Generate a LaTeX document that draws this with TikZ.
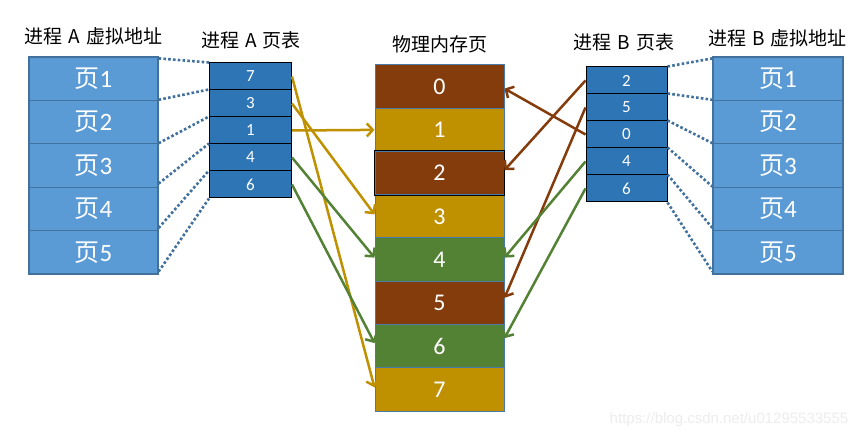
\documentclass[tikz,border=0pt]{standalone}
\usepackage{fontspec}
\setmainfont{Carlito}
\newfontfamily\cjk{Noto Sans CJK SC}
\newfontfamily\wmfont{Liberation Sans}
\usetikzlibrary{arrows.meta}
\definecolor{vfill}{HTML}{5B9BD5}
\definecolor{vborder}{HTML}{41719C}
\definecolor{tfill}{HTML}{2E75B6}
\definecolor{pbrown}{HTML}{843C0C}
\definecolor{pgold}{HTML}{BF9000}
\definecolor{pgreen}{HTML}{548235}
\definecolor{pborder}{HTML}{4A7AA8}
\definecolor{dotc}{HTML}{41719C}
\newcommand{\tsp}{\hspace{6pt}}
\begin{document}
\begin{tikzpicture}[x=1pt,y=-1pt,
  vpage/.style={draw=vborder, line width=1.2pt, fill=vfill, minimum width=129pt, minimum height=43.4pt, inner sep=0pt, text=white, font=\fontsize{25}{25}\selectfont},
  tcell/.style={draw=black, line width=1pt, fill=tfill, minimum width=82pt, minimum height=27pt, inner sep=0pt, text=white, font=\fontsize{17}{17}\selectfont},
  pcell/.style={draw=pborder, line width=1pt, minimum width=129pt, minimum height=43.25pt, inner sep=0pt, text=white, font=\fontsize{24}{24}\selectfont},
  ttl/.style={font=\cjk\fontsize{19}{19}\selectfont, inner sep=0pt},
  dots/.style={draw=dotc, line width=2.6pt, dash pattern=on 2.6pt off 2.2pt},
  arr/.style={line width=2.5pt, -{Straight Barb[length=6pt,width=13pt]}}
]
\useasboundingbox (0,0) rectangle (865,438);
\fill[white] (0,0) rectangle (865,438);

% titles
\node[ttl] (tva) at (93.5,36) {进程\tsp A\tsp 虚拟地址};
\node[ttl] (tta) at (251,40) {进程\tsp A\tsp 页表};
\node[ttl] (tpm) at (439.5,44) {物理内存页};
\node[ttl] (ttb) at (624,42) {进程\tsp B\tsp 页表};
\node[ttl] (tvb) at (777.5,38) {进程\tsp B\tsp 虚拟地址};

% virtual pages A
\foreach \i/\y in {1/78.7,2/122.1,3/165.5,4/208.9,5/252.3}
  \node[vpage] (a\i) at (93.5,\y) {{\cjk 页}\i};
% page table A
\foreach \i/\y/\v in {1/76.5/7,2/103.5/3,3/130.5/1,4/157.5/4,5/184.5/6}
  \node[tcell] (ta\i) at (250.5,\y) {\v};
% physical memory
\foreach \i/\y/\c in {0/86.6/pbrown,1/129.9/pgold,2/173.1/pbrown,3/216.4/pgold,4/259.6/pgreen,5/302.9/pbrown,6/346.1/pgreen,7/389.4/pgold}
  \node[pcell, fill=\c] (p\i) at (439.5,\y) {\i};
\draw[black, line width=1pt] (p2.north west) rectangle (p2.south east);
% page table B
\foreach \i/\y/\v in {1/80.5/2,2/107.5/5,3/134.5/0,4/161.5/4,5/188.5/6}
  \node[tcell, minimum width=81pt] (tb\i) at (626.5,\y) {\v};
% virtual pages B
\foreach \i/\y in {1/78.7,2/122.1,3/165.5,4/208.9,5/252.3}
  \node[vpage, minimum width=130pt] (b\i) at (778,\y) {{\cjk 页}\i};

% dotted projection lines A
\draw[dots] ([yshift=-2pt]a1.north east) -- (ta1.north west);
\draw[dots] (a2.north east) -- (ta2.north west);
\draw[dots] (a3.north east) -- (ta3.north west);
\draw[dots] ([yshift=3pt]a4.north east) -- (ta4.north west);
\draw[dots] ([yshift=2pt]a5.north east) -- (ta5.north west);
\draw[dots] ([yshift=3pt]a5.south east) -- (ta5.south west);
% dotted projection lines B
\draw[dots] (tb1.north east) -- ([yshift=-2pt]b1.north west);
\draw[dots] (tb2.north east) -- (b2.north west);
\draw[dots] (tb3.north east) -- (b3.north west);
\draw[dots] (tb4.north east) -- (b4.north west);
\draw[dots] (tb5.north east) -- ([yshift=2pt]b5.north west);
\draw[dots] (tb5.south east) -- ([yshift=3pt]b5.south west);

% arrows A
\draw[arr, pgold] (ta1.east) -- ([yshift=2pt]p7.west);
\draw[arr, pgold] (ta2.east) -- ([yshift=2pt]p3.west);
\draw[arr, pgold] (ta3.east) -- (p1.west);
\draw[arr, pgreen] (ta4.east) -- ([yshift=2pt]p4.west);
\draw[arr, pgreen] (ta5.east) -- ([yshift=3pt]p6.west);
% arrows B
\draw[arr, pbrown] (tb1.west) -- ([yshift=3pt]p2.east);
\draw[arr, pbrown] (tb2.west) -- ([yshift=5pt]p5.east);
\draw[arr, pbrown] (tb3.west) -- ([yshift=-2pt]p0.east);
\draw[arr, pgreen] (tb4.west) -- ([yshift=2pt]p4.east);
\draw[arr, pgreen] (tb5.west) -- ([yshift=8pt]p6.east);

% watermark
\node[font=\wmfont\fontsize{15}{15}\selectfont, text=black!7, inner sep=0pt] (wm) at (729,420) {https://blog.csdn.net/u01295533555};
\end{tikzpicture}
\end{document}
